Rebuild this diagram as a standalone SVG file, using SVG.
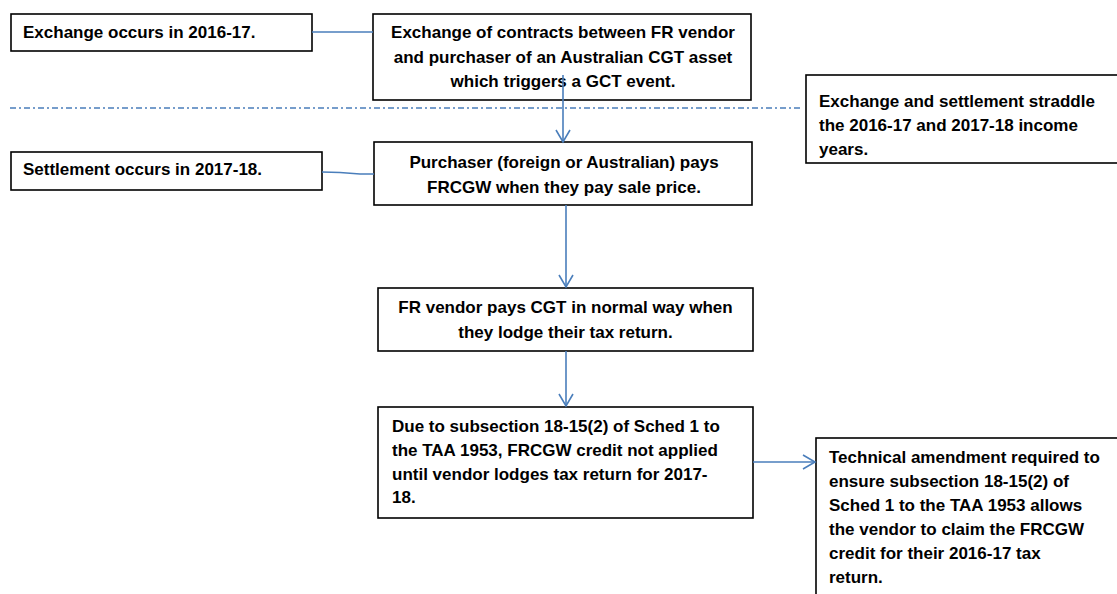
<svg xmlns="http://www.w3.org/2000/svg" width="1117" height="594" viewBox="0 0 1117 594">
<defs>
<style>
.box{fill:#fff;stroke:#000;stroke-width:1.6}
.t{font-family:"Liberation Sans",Arial,sans-serif;font-weight:bold;font-size:17px;fill:#000}
.c{text-anchor:middle}
.ln{fill:none;stroke:#4a7ebb;stroke-width:1.6}
</style>
<marker id="open" viewBox="0 0 16 16" refX="14" refY="8" markerWidth="16" markerHeight="16" markerUnits="userSpaceOnUse" orient="auto">
<path d="M2,1 L14,8 L2,15" fill="none" stroke="#4a7ebb" stroke-width="1.6"/>
</marker>
</defs>
<rect width="1117" height="594" fill="#fff"/>
<g id="n1"><rect class="box" x="11" y="14" width="301" height="37"/><text class="t" x="23" y="38">Exchange occurs in 2016-17.</text></g>
<g id="n2"><rect class="box" x="373" y="14" width="378" height="86"/>
<text class="t c" x="563" y="38">Exchange of contracts between FR vendor</text>
<text class="t c" x="563" y="62.5">and purchaser of an Australian CGT asset</text>
<text class="t c" x="563" y="87">which triggers a GCT event.</text></g>
<g id="n3"><rect class="box" x="806" y="75" width="330" height="88"/>
<text class="t" x="819" y="106.5">Exchange and settlement straddle</text>
<text class="t" x="819" y="131">the 2016-17 and 2017-18 income</text>
<text class="t" x="819" y="155">years.</text></g>
<g id="n4"><rect class="box" x="11" y="152" width="311" height="38"/><text class="t" x="23" y="175">Settlement occurs in 2017-18.</text></g>
<g id="n5"><rect class="box" x="374" y="142" width="378" height="63"/>
<text class="t c" x="564" y="167.5">Purchaser (foreign or Australian) pays</text>
<text class="t c" x="564" y="192.5">FRCGW when they pay sale price.</text></g>
<g id="n6"><rect class="box" x="378" y="288" width="375" height="63"/>
<text class="t c" x="565.5" y="313">FR vendor pays CGT in normal way when</text>
<text class="t c" x="565.5" y="338">they lodge their tax return.</text></g>
<g id="n7"><rect class="box" x="378" y="407" width="375" height="111"/>
<text class="t" x="392" y="432">Due to subsection 18-15(2) of Sched 1 to</text>
<text class="t" x="392" y="456">the TAA 1953, FRCGW credit not applied</text>
<text class="t" x="392" y="480">until vendor lodges tax return for 2017-</text>
<text class="t" x="392" y="503">18.</text></g>
<g id="n8"><rect class="box" x="816" y="438" width="320" height="180"/>
<text class="t" x="829" y="463">Technical amendment required to</text>
<text class="t" x="829" y="487">ensure subsection 18-15(2) of</text>
<text class="t" x="829" y="511">Sched 1 to the TAA 1953 allows</text>
<text class="t" x="829" y="535">the vendor to claim the FRCGW</text>
<text class="t" x="829" y="559">credit for their 2016-17 tax</text>
<text class="t" x="829" y="583">return.</text></g>
<g id="connectors">
<line class="ln" x1="312" y1="32" x2="373" y2="32"/>
<polyline class="ln" points="322,172 340,172.5 360,174 374,174"/>
<line class="ln" x1="10" y1="108" x2="802" y2="108" stroke-dasharray="6 3 2 3"/>
<line class="ln" x1="563" y1="75" x2="563" y2="142" marker-end="url(#open)"/>
<line class="ln" x1="566" y1="205" x2="566" y2="287" marker-end="url(#open)"/>
<line class="ln" x1="566" y1="351" x2="566" y2="406" marker-end="url(#open)"/>
<line class="ln" x1="753" y1="462" x2="815" y2="462" marker-end="url(#open)"/>
</g>
</svg>
